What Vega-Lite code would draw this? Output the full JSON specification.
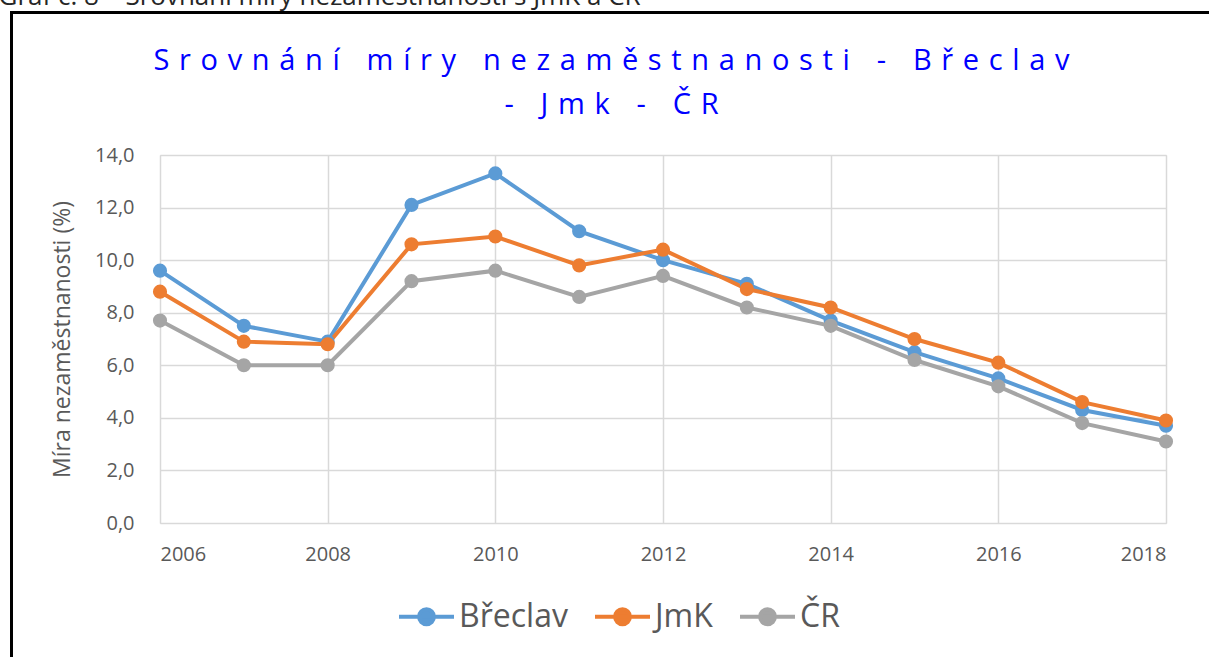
{
  "$schema": "https://vega.github.io/schema/vega-lite/v6.json",
  "width": 1006,
  "height": 368,
  "autosize": {"type": "none"},
  "padding": {"left": 160, "top": 155, "right": 43, "bottom": 134},
  "background": "white",
  "config": {"legend": {"strokeWidth": 3}},
  "data": {
    "values": [
      {"year": 2006, "series": "Břeclav", "value": 9.6},
      {"year": 2007, "series": "Břeclav", "value": 7.5},
      {"year": 2008, "series": "Břeclav", "value": 6.9},
      {"year": 2009, "series": "Břeclav", "value": 12.1},
      {"year": 2010, "series": "Břeclav", "value": 13.3},
      {"year": 2011, "series": "Břeclav", "value": 11.1},
      {"year": 2012, "series": "Břeclav", "value": 10.0},
      {"year": 2013, "series": "Břeclav", "value": 9.1},
      {"year": 2014, "series": "Břeclav", "value": 7.7},
      {"year": 2015, "series": "Břeclav", "value": 6.5},
      {"year": 2016, "series": "Břeclav", "value": 5.5},
      {"year": 2017, "series": "Břeclav", "value": 4.3},
      {"year": 2018, "series": "Břeclav", "value": 3.7},
      {"year": 2006, "series": "JmK", "value": 8.8},
      {"year": 2007, "series": "JmK", "value": 6.9},
      {"year": 2008, "series": "JmK", "value": 6.8},
      {"year": 2009, "series": "JmK", "value": 10.6},
      {"year": 2010, "series": "JmK", "value": 10.9},
      {"year": 2011, "series": "JmK", "value": 9.8},
      {"year": 2012, "series": "JmK", "value": 10.4},
      {"year": 2013, "series": "JmK", "value": 8.9},
      {"year": 2014, "series": "JmK", "value": 8.2},
      {"year": 2015, "series": "JmK", "value": 7.0},
      {"year": 2016, "series": "JmK", "value": 6.1},
      {"year": 2017, "series": "JmK", "value": 4.6},
      {"year": 2018, "series": "JmK", "value": 3.9},
      {"year": 2006, "series": "ČR", "value": 7.7},
      {"year": 2007, "series": "ČR", "value": 6.0},
      {"year": 2008, "series": "ČR", "value": 6.0},
      {"year": 2009, "series": "ČR", "value": 9.2},
      {"year": 2010, "series": "ČR", "value": 9.6},
      {"year": 2011, "series": "ČR", "value": 8.6},
      {"year": 2012, "series": "ČR", "value": 9.4},
      {"year": 2013, "series": "ČR", "value": 8.2},
      {"year": 2014, "series": "ČR", "value": 7.5},
      {"year": 2015, "series": "ČR", "value": 6.2},
      {"year": 2016, "series": "ČR", "value": 5.2},
      {"year": 2017, "series": "ČR", "value": 3.8},
      {"year": 2018, "series": "ČR", "value": 3.1}
    ]
  },
  "encoding": {
    "color": {
      "field": "series",
      "type": "nominal",
      "scale": {"domain": ["Břeclav", "JmK", "ČR"], "range": ["#5B9BD5", "#ED7D31", "#A5A5A5"]},
      "legend": {
        "orient": "none",
        "legendX": 237,
        "legendY": 432,
        "direction": "horizontal",
        "title": null,
        "labelFont": "Open Sans",
        "labelFontSize": 32,
        "labelColor": "#595959",
        "labelOffset": 3,
        "columnPadding": 19,
        "symbolType": "M-1,0L1,0M0.27,0A0.27,0.27,0,1,1,-0.27,0A0.27,0.27,0,1,1,0.27,0Z",
        "symbolSize": 3025,
        "symbolStrokeWidth": 4,
        "encode": {
          "symbols": {
            "update": {
              "fill": {"scale": "color", "field": "value"},
              "stroke": {"scale": "color", "field": "value"},
              "opacity": {"value": 1},
              "size": {"value": 3025},
              "strokeWidth": {"value": 4}
            }
          }
        }
      }
    }
  },
  "layer": [
    {
      "mark": {"type": "line", "strokeWidth": 4},
      "encoding": {
        "x": {
          "field": "year",
          "type": "quantitative",
          "scale": {"domain": [2006, 2018], "nice": false, "zero": false},
          "axis": {
            "values": [2006, 2008, 2010, 2012, 2014, 2016, 2018],
            "format": "d",
            "labelFont": "Open Sans",
            "labelFontSize": 20,
            "labelColor": "#595959",
            "labelPadding": 21,
            "ticks": false,
            "domain": false,
            "gridColor": "#D9D9D9",
            "gridWidth": 1.5,
            "title": null
          }
        },
        "y": {
          "field": "value",
          "type": "quantitative",
          "scale": {"domain": [0, 14], "nice": false},
          "axis": {
            "values": [0, 2, 4, 6, 8, 10, 12, 14],
            "labelExpr": "replace(format(datum.value, '.1f'), '.', ',')",
            "labelFont": "Open Sans",
            "labelFontSize": 20,
            "labelColor": "#595959",
            "labelPadding": 26,
            "ticks": false,
            "domain": false,
            "gridColor": "#D9D9D9",
            "gridWidth": 1.5,
            "title": "Míra nezaměstnanosti (%)",
            "titleFont": "Open Sans",
            "titleFontSize": 23,
            "titleFontWeight": "normal",
            "titleColor": "#595959",
            "titlePadding": 20
          }
        }
      }
    },
    {
      "mark": {"type": "point", "filled": true, "size": 200, "opacity": 1},
      "encoding": {
        "x": {
          "field": "year",
          "type": "quantitative",
          "axis": {
            "orient": "top",
            "labels": false,
            "ticks": false,
            "domain": false,
            "grid": false,
            "title": [
              "S\u2004r\u2004o\u2004v\u2004n\u2004á\u2004n\u2004í\u2004\u00a0\u2004m\u2004í\u2004r\u2004y\u2004\u00a0\u2004n\u2004e\u2004z\u2004a\u2004m\u2004ě\u2004s\u2004t\u2004n\u2004a\u2004n\u2004o\u2004s\u2004t\u2004i\u2004\u00a0\u2004-\u2004\u00a0\u2004B\u2004ř\u2004e\u2004c\u2004l\u2004a\u2004v",
              "-\u2004\u00a0\u2004J\u2004m\u2004k\u2004\u00a0\u2004-\u2004\u00a0\u2004Č\u2004R"
            ],
            "titleFont": "Open Sans",
            "titleFontSize": 29,
            "titleFontWeight": "normal",
            "titleColor": "#0000FF",
            "titleLineHeight": 44,
            "titleAnchor": "start",
            "titleAlign": "center",
            "titleBaseline": "alphabetic",
            "titleAngle": 0,
            "titleX": 451,
            "titleY": -86
          }
        },
        "y": {
          "field": "value",
          "type": "quantitative",
          "axis": {
            "orient": "right",
            "labels": false,
            "ticks": false,
            "domain": false,
            "grid": false,
            "title": "Graf č. 8 – Srovnání míry nezaměstnanosti s JmK a ČR",
            "titleFont": "Open Sans",
            "titleFontSize": 26,
            "titleFontWeight": "normal",
            "titleColor": "#262626",
            "titleAngle": 0,
            "titleAlign": "left",
            "titleBaseline": "alphabetic",
            "titleX": -1168,
            "titleY": -151
          }
        },
        "shape": {
          "datum": "frame",
          "type": "nominal",
          "scale": {"range": ["circle"]},
          "legend": {
            "orient": "none",
            "legendX": -148.5,
            "legendY": -142.5,
            "title": null,
            "padding": 800,
            "labelExpr": "''",
            "symbolOpacity": 0,
            "strokeColor": "#000000",
            "encode": {
              "legend": {"update": {"stroke": {"value": "#000000"}, "strokeWidth": {"value": 3}}}
            }
          }
        }
      }
    }
  ],
  "resolve": {"axis": {"x": "independent", "y": "independent"}}
}
